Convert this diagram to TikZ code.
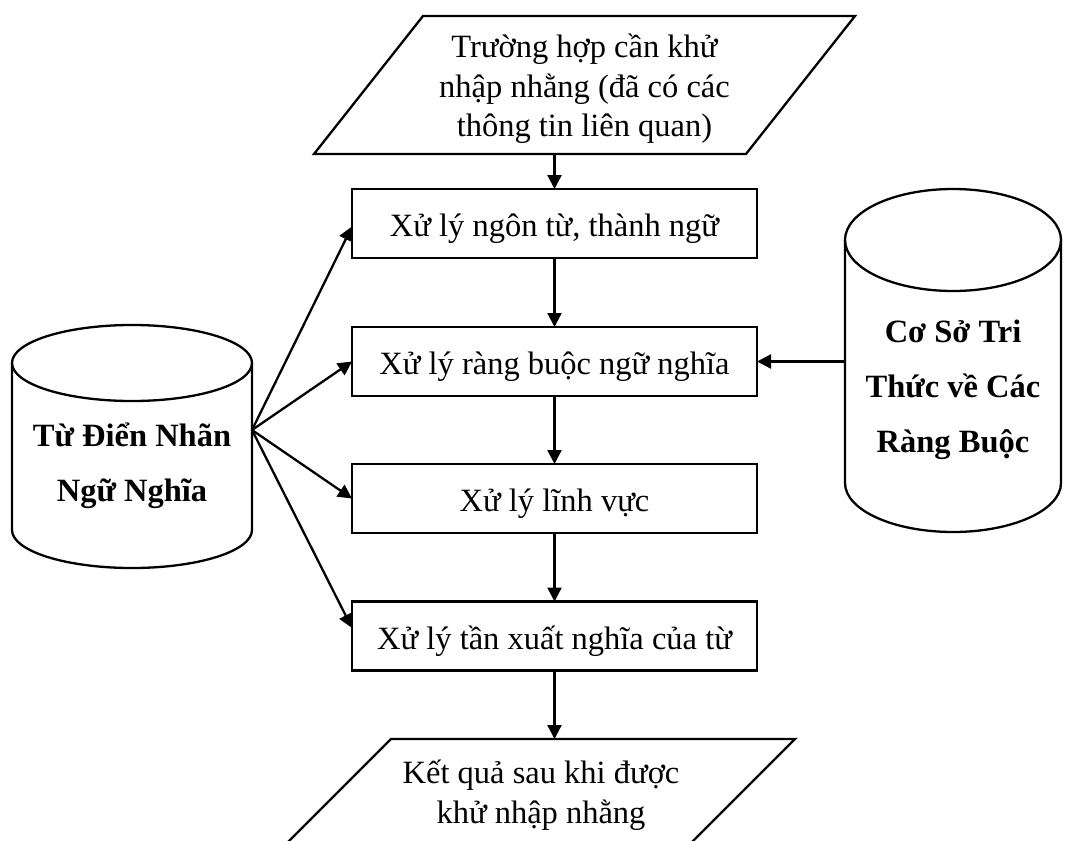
\documentclass[tikz,border=0pt]{standalone}
\usepackage{fontspec}
\setmainfont{Liberation Serif}
\usetikzlibrary{arrows.meta}
\begin{document}
\begin{tikzpicture}[x=1pt,y=-1pt,line width=2.3pt,
  every node/.style={inner sep=0pt, outer sep=0pt},
  txt/.style={font=\fontsize{32.5}{39.5}\selectfont, align=center},
  boldtxt/.style={font=\fontsize{32.5}{55}\selectfont\bfseries, align=center},
  proc/.style={draw, rectangle, minimum width=405pt, minimum height=69pt,
    text height=33pt, text depth=7pt, font=\fontsize{32.5}{39}\selectfont},
  area/.style={rectangle, draw=none},
  flow/.style={-{Triangle[length=14pt,width=14pt]}},
]
\useasboundingbox (0,0) rectangle (1078,840);

% processing steps
\node[proc] (b1) at (554.5,223.5) {Xử lý ngôn từ, thành ngữ};
\node[proc] (b2) at (554.5,361.5) {Xử lý ràng buộc ngữ nghĩa};
\node[proc] (b3) at (554.5,498.5) {Xử lý lĩnh vực};
\node[proc] (b4) at (554.5,636) {Xử lý tần xuất nghĩa của từ};

% input (parallelogram)
\node[area, minimum width=541pt, minimum height=138pt] (in) at (584.5,85) {};
\draw ([xshift=109pt]in.north west) -- (in.north east)
  -- ([xshift=-109pt]in.south east) -- (in.south west) -- cycle;
\node[txt] (inText) at (584.5,89) {Trường hợp cần khử\\nhập nhằng (đã có các\\thông tin liên quan)};

% output (parallelogram)
\node[area, minimum width=508pt, minimum height=104pt] (out) at (541,791) {};
\draw ([xshift=104pt]out.north west) -- (out.north east)
  -- ([xshift=-104pt]out.south east) -- (out.south west) -- cycle;
\node[txt] (outText) at (541,795) {Kết quả sau khi được\\khử nhập nhằng};

% dictionary cylinder
\node[area, minimum width=240pt, minimum height=167pt] (dict) at (132,446.5) {};
\draw (dict.north west) -- (dict.south west)
  arc[start angle=180, end angle=360, x radius=120pt, y radius=38pt]
  -- (dict.north east);
\draw (dict.north) ellipse [x radius=120pt, y radius=38pt];
\node[boldtxt] (dictText) at (132,466) {Từ Điển Nhãn\\Ngữ Nghĩa};

% knowledge-base cylinder
\node[area, minimum width=216pt, minimum height=243pt] (kb) at (953,361.5) {};
\draw (kb.north west) -- (kb.south west)
  arc[start angle=180, end angle=360, x radius=108pt, y radius=49pt]
  -- (kb.north east);
\draw (kb.north) ellipse [x radius=108pt, y radius=51pt];
\node[boldtxt] (kbText) at (953,389.5) {Cơ Sở Tri\\Thức về Các\\Ràng Buộc};

% main flow
\draw[flow] (in.south -| b1.north) -- (b1.north);
\draw[flow] (b1) -- (b2);
\draw[flow] (b2) -- (b3);
\draw[flow] (b3) -- (b4);
\draw[flow] (b4.south) -- (b4.south |- out.north);

% knowledge base feeds the constraint step
\draw[flow] (kb.west) -- (b2.east);

% dictionary feeds every step
\coordinate (fan) at ([yshift=16.5pt]dict.east);
\draw[flow] (fan) -- ([yshift=-3pt]b1.west);
\draw[flow] (fan) -- (b2.west);
\draw[flow] (fan) -- (b3.west);
\draw[flow] (fan) -- ([yshift=8pt]b4.west);
\end{tikzpicture}
\end{document}
